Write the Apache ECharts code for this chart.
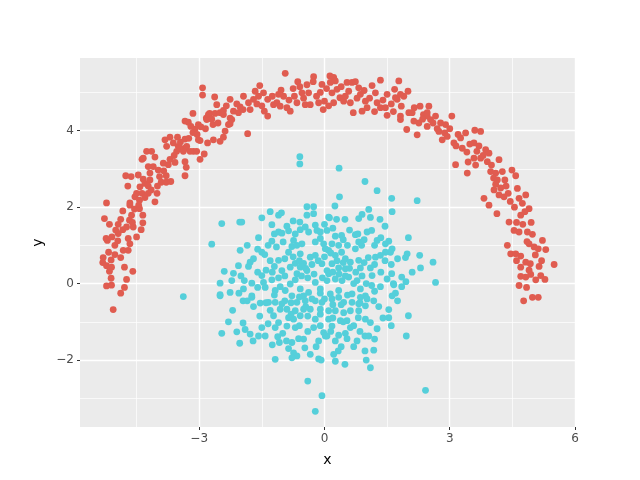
<!DOCTYPE html>
<html>
<head>
<meta charset="utf-8">
<script src="https://cdn.jsdelivr.net/npm/echarts@6/dist/echarts.min.js"></script>
<style>html,body{margin:0;padding:0;background:#fff}#c{width:640px;height:480px}</style>
</head>
<body>
<div id="c"></div>
<script>
const xMajorTicks = [-3, 0, 3, 6];
const xMinorTicks = [-4.5, -1.5, 1.5, 4.5];
const yMajorTicks = [-2, 0, 2, 4];
const yMinorTicks = [-3, -1, 1, 3, 5];

const moonPoints = [
[-5.22,2.11],[-5.27,1.70],[-5.15,1.55],[-5.23,1.18],[-5.2,1.13],[-5.09,1.22],[-5.17,0.82],[-5.3,0.68],[-5.31,0.55],[-5.22,0.47],[-5.1,0.43],[-5.15,0.32],[-5.11,0.14],[-5.22,-0.06],[-5.1,-0.04],[-5.06,-0.68],[-4.88,-0.25],[-4.79,-0.1],[-4.74,0.11],[-4.59,0.32],[-4.79,0.43],[-5.11,0.62],[-5.02,0.76],[-4.88,0.68],[-4.82,0.87],[-4.7,0.87],[-4.66,1.04],[-5.02,1.0],[-4.7,1.18],[-4.5,1.22],[-4.94,1.31],[-4.83,1.41],[-4.74,1.48],[-4.58,1.48],[-4.39,1.41],[-4.94,1.55],[-4.88,1.68],[-4.67,1.66],[-4.35,1.59],[-4.62,1.79],[-4.35,1.79],[-4.83,1.9],[-4.66,2.05],[-4.66,2.11],
[-4.43,1.96],[-4.54,2.27],[-4.43,2.18],[-4.37,2.36],[-4.22,2.36],[-4.06,2.14],[-4.01,2.36],[-4.5,2.36],[-4.71,2.55],[-4.42,2.53],[-4.3,2.62],[-4.18,2.71],[-4.22,2.55],[-4.76,2.82],[-4.63,2.8],[-4.46,2.84],[-4.34,2.73],[-3.91,2.65],[-3.79,2.65],[-3.68,2.67],[-3.79,2.82],[-3.34,2.82],[-3.98,2.97],[-4.18,2.89],[-4.1,3.06],[-3.86,3.15],[-3.74,3.11],[-3.58,3.17],[-3.31,3.04],[-3.34,3.19],[-4.37,3.25],[-4.22,3.06],[-4.06,3.31],[-4.26,3.46],[-3.54,3.46],[-3.14,3.46],[-2.98,3.25],[-2.88,3.39],
[-3.7,3.83],[-3.52,3.83],[-3.62,3.68],[-3.5,3.59],[-3.34,3.78],[-3.34,3.54],[-3.06,3.46],[-3.02,3.76],[-2.98,3.74],[-2.66,3.76],[-2.5,3.72],[-2.42,3.83],[-2.8,3.68],[-3.34,4.25],[-3.26,4.22],[-3.15,4.45],[-3.2,4.11],[-3.1,4.04],[-3.02,4.16],[-2.96,4.1],[-2.92,5.12],[-2.92,4.93],[-2.83,4.33],[-2.75,4.45],[-2.67,4.16],[-2.62,4.45],[-2.63,4.88],[-2.58,4.68],[-2.5,4.47],[-2.42,4.53],[-2.38,3.99],[-2.26,4.82],[-2.26,4.33],[-2.26,4.18],[-2.18,4.51],[-2.06,4.47],[-2.02,4.62],[-1.94,4.9],[-1.84,3.92],[-1.78,4.55],[-1.82,4.73],[-1.7,4.82],[-1.66,5.03],[-1.55,5.18],[-1.58,4.9],[-1.46,4.99],[-1.44,4.51],[-1.36,4.82],[-1.36,4.38],[-1.22,4.68],[-1.14,4.73],[-1.06,4.64],[-1.04,5.06],[-0.94,5.5],[-0.98,4.9],[-0.9,4.6],[-0.82,4.51],[-0.72,4.9],[-0.64,5.28],[-0.59,5.15],[-0.54,4.99],[-0.66,4.73],[-0.46,4.68],[-0.38,4.99],[-0.34,4.68],[-0.26,5.41],[-0.27,5.28],[-0.19,4.9],[-0.14,4.73],[-0.06,5.21],[-0.03,4.55],[0.0,4.77],[0.13,5.43],[0.22,5.39],[0.26,5.3],[0.18,4.99],[0.14,5.26],[0.3,5.08],[0.22,4.73],[0.37,4.86],[0.46,4.77],[0.54,5.26],[0.58,5.03],[0.66,5.26],[0.74,5.28],[0.62,4.73],[0.69,4.47],[0.82,5.12],[0.86,4.95],[0.9,4.51],[0.98,4.77],[1.02,4.6],[1.14,5.18],[1.22,4.99],[1.26,4.73],[1.34,5.32],[1.34,4.6],[1.5,4.95],[1.5,4.4],[1.68,5.08],[1.78,5.3],[1.74,4.82],[1.84,4.64],[1.82,4.38],[1.9,4.9],[2.0,5.03],[1.97,4.03],[2.02,4.47],[2.22,3.89],[2.29,4.64],[2.26,4.2],[2.37,4.42],[2.46,4.38],[2.46,4.11],
[1.46,4.6],[1.7,4.86],[1.82,4.95],[1.82,4.29],[2.1,4.47],[2.14,4.25],[2.5,4.64],[2.46,4.47],[2.54,4.29],[2.66,4.38],[2.78,4.2],[2.74,3.98],[2.88,3.94],[2.9,4.16],[3.05,4.38],[2.94,3.85],[2.82,3.76],[3.1,3.68],[3.26,3.81],[3.38,3.94],[3.3,3.54],[3.41,3.44],[3.44,3.18],[3.58,3.68],[3.6,4.01],[3.74,3.98],[3.65,3.46],[3.74,3.28],[3.58,3.28],[3.14,3.11],[3.42,2.89],[3.86,3.5],[3.94,3.41],[3.9,3.19],[3.98,2.93],[4.1,2.89],[4.05,2.76],[4.18,3.24],[4.26,2.93],[4.32,2.71],[4.14,2.71],[4.06,2.45],[4.18,2.32],[3.82,2.23],[3.94,2.05],[4.13,1.83],[4.3,2.27],[4.4,2.36],[4.49,2.97],[4.58,2.82],[4.62,2.49],[4.66,2.23],[4.82,2.32],[4.74,2.1],[4.9,1.96],[4.8,1.88],[4.7,1.79],[4.42,1.61],[4.54,1.39],[4.66,1.35],[4.86,1.35],[4.98,1.29],[4.9,1.04],[5.02,0.96],[5.12,0.91],[5.22,1.13],[5.3,0.89],[4.38,1.0],[4.46,0.78],[4.58,0.78],[4.7,0.72],[4.82,0.56],[4.93,0.52],[4.7,0.43],[5.14,0.45],[5.5,0.5],[4.7,0.19],[4.82,0.17],[4.94,0.24],[5.06,0.1],[5.18,0.21],[5.28,0.11],[4.66,-0.05],[4.84,-0.1],[4.77,-0.45],[4.98,-0.36],[5.12,-0.36],
[-4.34,3.28],[-4.14,3.46],[-3.82,3.76],[-3.78,3.59],[-3.46,3.54],[-3.3,3.59],[-3.38,3.46],[-3.22,3.46],[-2.82,4.29],[-2.78,4.42],[-2.42,4.42],[-2.3,4.16],[-2.22,4.29],
[-5.0,1.4],[-4.95,1.12],[-4.6,1.6],[-4.55,1.95],[-4.45,2.05],[-4.3,2.25],[-4.15,2.45],[-4.0,2.55],[-3.95,2.8],[-3.85,2.95],[-3.7,3.25],[-3.6,3.35],[-3.45,3.7],[-3.25,3.8],[-3.15,3.95],[-3.05,3.9],[-2.85,4.05],[-2.7,4.3],[-2.55,4.2],[-2.35,4.65],[-2.1,4.7],[-1.95,4.55],[-1.62,4.7],[-1.5,4.65],[-1.25,4.9],[-1.1,4.95],[-0.85,4.8],[-0.75,5.1],[-0.5,4.85],[-0.42,5.2],[-0.1,5.0],[0.05,5.1],[0.1,4.65],[0.4,5.15],[0.5,4.9],[0.78,4.85],[0.95,5.05],[1.08,4.85],[1.2,4.5],[1.4,4.8],[1.6,4.7],[1.65,4.5],[2.15,4.6],[2.35,4.3],[2.6,4.2],[2.7,4.05],[3.0,4.05],[3.2,3.9],[3.15,3.6],[3.48,3.65],[3.7,3.6],[3.8,3.35],[3.62,3.1],[4.0,3.1],[4.1,2.6],[4.22,2.5],[4.35,2.55],[4.45,2.15],[4.55,2.0],[4.6,1.6],[4.75,1.55],[4.95,1.6],[4.85,1.1],[5.05,0.75],[4.6,0.6],[5.2,0.6],[4.9,0.35]
];

const blobPoints = [
[-3.38,-0.34],[-0.59,3.32],[-0.59,3.13],[0.35,3.02],[2.42,-2.79],
[-2.46,1.57],[-2.03,1.61],[-1.98,1.61],[-2.7,1.03],[-2.02,0.87],[-1.58,1.2],[-1.5,1.72],[-1.3,1.88],[-1.26,1.54],[-1.1,1.79],[-1.03,1.85],[-1.5,0.82],[-1.43,0.76],[-1.26,1.11],[-1.15,0.96],[-1.1,1.35],[-1.02,1.32],[-0.99,1.09],[-0.86,1.38],[-0.75,1.64],[-0.59,1.61],[-0.74,1.13],[-0.78,0.97],[-0.66,1.0],[-0.54,1.04],[-0.86,0.82],[-0.58,0.78],[-0.42,2.01],[-0.26,2.01],[-0.26,1.83],[-0.42,1.79],[-0.58,1.41],[-0.46,1.48],[-0.38,1.35],[-0.22,1.53],[-0.18,1.39],[-0.22,1.09],[-0.1,1.18],[-0.02,1.04],[0.02,0.91],[0.1,1.74],[-0.34,0.69],[-0.22,0.74],[-1.1,0.61],[-1.2,0.45],[-1.02,0.34],[-0.82,0.43],[-0.7,0.53],[-0.58,0.43],[-0.5,0.53],[-0.66,0.26],[-0.42,0.34],[-1.78,0.56],[-1.82,0.45],[-2.06,0.47],[-2.4,0.32],[-2.18,0.27],[-2.22,0.08],[-2.5,0.01],[-1.92,0.08],[-1.74,0.01],[-1.94,-0.14],[-1.5,0.21],[-1.46,0.03],[-1.42,-0.1],[-1.26,0.1],[-1.18,-0.18],[-1.06,-0.08],[-0.94,-0.18],[-0.82,-0.01],[-0.78,-0.32],[-0.58,-0.14],[-0.5,-0.32],[-0.38,-0.23],[-0.22,0.03],[-0.1,-0.14],[0.06,0.08],[-2.26,-0.23],[-2.5,-0.29],[-1.74,-0.32],[0.06,0.34],[-0.06,0.52],
[0.97,2.67],[1.26,2.43],[0.36,2.27],[0.25,2.03],[1.61,2.23],[2.22,2.17],[1.62,1.88],[1.06,1.94],[0.9,1.81],[0.82,1.7],[1.1,1.73],[1.33,1.68],[1.45,1.5],[0.12,1.72],[0.29,1.68],[0.49,1.68],[0.06,1.39],[0.26,1.24],[0.41,1.26],[0.74,1.28],[1.02,1.35],[1.13,1.39],[1.26,1.13],[1.46,1.04],[1.54,1.11],[2.01,1.2],[0.18,1.04],[0.34,1.0],[0.82,1.09],[0.89,1.0],[0.74,0.91],[1.62,0.91],[1.58,0.82],[1.46,0.82],[1.34,0.74],[1.22,0.69],[1.05,0.68],[1.98,0.78],[1.94,0.68],[2.28,0.74],[2.6,0.56],[2.3,0.41],[2.66,0.03],[0.1,0.87],[0.26,0.74],[0.41,0.82],[0.5,0.65],[0.62,0.56],[0.82,0.61],[0.18,0.52],[0.34,0.41],[0.5,0.39],[0.86,0.41],[1.1,0.41],[1.14,0.21],[1.61,0.26],[1.5,0.12],[1.85,0.17],[1.66,-0.03],[1.85,-0.08],[1.7,-0.25],[1.34,-0.08],[1.13,-0.05],[0.1,0.26],[0.26,0.12],[0.42,0.08],[0.58,0.17],[0.78,0.08],[0.86,-0.14],[0.98,-0.32],[0.66,-0.27],[0.34,-0.18],[0.14,-0.27],
[-2.5,-0.32],[-1.95,-0.45],[-1.74,-0.36],[-1.54,-0.51],[-1.34,-0.49],[-1.18,-0.49],[-1.02,-0.53],[-1.22,-0.84],[-1.1,-1.02],[-1.18,-1.15],[-1.95,-1.03],[-2.46,-1.3],[-2.1,-1.26],[-2.03,-1.56],[-1.78,-1.32],[-1.71,-1.5],[-1.58,-1.37],[-1.42,-1.37],[-1.12,-1.39],[-1.08,-1.54],[-0.91,-1.5],[-0.78,-1.54],[-0.86,-1.7],[-0.74,-1.81],[-0.66,-1.89],[-0.78,-1.94],[-0.62,-1.44],[-0.47,-1.68],[-0.34,-1.85],[-0.14,-1.97],[-0.08,-2.0],[-1.18,-1.98],[-0.4,-2.55],[-0.06,-2.93],[-0.22,-3.34],[-0.9,-1.11],[-0.7,-1.15],[-0.86,-0.89],[-0.74,-0.93],[-1.06,-0.67],[-0.9,-0.67],[-0.7,-0.71],[-0.58,-0.84],[-0.5,-0.67],[-0.34,-0.67],[-0.22,-0.93],[-0.26,-1.15],[-0.14,-1.5],[-0.02,-1.28],[0.02,-1.37],[-0.22,-0.45],[-0.1,-0.67],[-0.06,-0.49],[-0.46,-0.45],[-0.66,-0.49],
[1.62,-0.32],[1.54,-0.68],[1.54,-0.89],[2.01,-0.84],[1.96,-1.37],[1.18,-0.45],[1.02,-0.4],[0.86,-0.36],[0.98,-0.58],[0.82,-0.53],[0.66,-0.49],[0.46,-0.49],[0.34,-0.36],[0.18,-0.4],[0.1,-0.71],[0.26,-0.71],[0.46,-0.76],[0.62,-0.71],[0.82,-0.71],[0.81,-0.89],[0.98,-0.93],[1.1,-1.02],[1.26,-1.18],[0.54,-0.97],[0.62,-1.15],[0.38,-0.97],[0.18,-1.11],[0.1,-0.93],[0.06,-1.37],[0.26,-1.5],[0.34,-1.35],[0.54,-1.44],[0.78,-1.5],[0.97,-1.37],[1.06,-1.37],[0.97,-1.76],[1.18,-1.74],[0.33,-1.76],[0.22,-1.85],[0.26,-2.03],[0.49,-2.11],[1.0,-2.0],[1.1,-2.2],
[-0.95,0.65],[-0.75,0.7],[-0.6,0.6],[-0.45,0.4],[-0.3,0.5],[-0.15,0.6],[0.0,0.7],[0.15,0.8],[0.3,0.6],[0.45,0.55],[0.6,0.4],[0.75,0.3],[0.95,0.55],[1.2,0.5],[1.35,0.3],[-1.3,0.6],[-1.4,0.35],[-1.6,0.3],[-1.25,0.3],[-1.1,0.15],[-0.95,0.2],[-0.7,0.1],[-0.55,0.2],[-0.4,0.15],[-0.25,0.25],[-0.05,0.15],[0.2,0.3],[0.35,0.25],[0.5,0.2],[0.7,0.0],[0.9,0.2],[1.0,0.0],[1.2,-0.2],[0.85,-0.5],[0.55,-0.3],[0.4,-0.55],[0.2,-0.55],[0.0,-0.4],[-0.1,-0.25],[-0.3,-0.4],[-0.45,-0.6],[-0.6,-0.35],[-0.8,-0.5],[-0.95,-0.45],[-1.2,-0.3],[-1.4,-0.5],[-1.6,-0.1],[-1.7,-0.6],[-1.3,-0.7],[-0.8,-0.8],[-0.4,-0.85],[-0.1,-0.8],[0.2,-0.9],[0.45,-1.0],[0.7,-1.1],[0.85,-1.25],[0.5,-1.3],[0.15,-1.25],[-0.1,-1.1],[-0.4,-1.25],[-0.6,-1.1],[-1.0,-1.3],[-1.35,-1.05],[-1.55,-0.85],[1.3,-0.6],[1.4,-0.9],[1.2,-1.45],[0.7,-1.65],[0.4,-1.65],[-0.2,-1.65],[-0.5,-1.45],[-1.25,-1.6],[-1.5,-1.15],[1.6,0.5],[1.75,0.65],[1.45,0.6],[0.55,1.0],[0.45,1.15],[0.6,1.4],[0.8,1.3],[0.95,1.15],[1.2,1.0],[1.35,1.2],[-0.1,1.35],[0.0,1.55],[0.2,1.45],[-0.7,1.3],[-0.9,1.5],[-1.2,1.3],[-1.35,1.0],[-1.6,0.9],[-1.85,1.0],[-1.7,0.65],[-2.0,0.2],[-2.05,-0.25],[-1.85,-0.45],[-2.2,-0.7],[-2.3,-1.0],[-1.9,-1.2],[1.75,-0.45],[1.6,-1.1],[1.65,0.0],[2.1,0.3],[1.95,0.05]
];

const moonColor = '#E05C50';
const blobColor = '#55CFDA';
const font = 'DejaVu Sans';
const fmt = v => String(v).replace('-', '\u2212');

const chart = echarts.init(document.getElementById('c'), null, {renderer: 'canvas'});
const tickStyle = {show: true, length: 3, lineStyle: {color: '#333333', width: 1}};
const labelStyle = {color: '#4D4D4D', fontSize: 12, fontFamily: font, formatter: fmt};
chart.setOption({
  animation: false,
  backgroundColor: '#FFFFFF',
  grid: {left: 80, right: 65, top: 58, bottom: 53, show: true, backgroundColor: '#EBEBEB', borderWidth: 0},
  xAxis: [
    {
      type: 'value', min: -5.855, max: 6.0, position: 'bottom',
      name: 'x', nameLocation: 'middle', nameGap: 26,
      nameTextStyle: {color: '#000', fontSize: 14, fontFamily: font},
      axisLine: {show: false, onZero: false},
      axisTick: Object.assign({}, tickStyle, {customValues: xMajorTicks}),
      axisLabel: Object.assign({}, labelStyle, {customValues: xMajorTicks, margin: 6}),
      splitLine: {show: true, lineStyle: {color: '#FFFFFF', width: 1.4}}
    },
    {
      type: 'value', min: -5.855, max: 6.0, position: 'bottom',
      axisLine: {show: false, onZero: false}, axisLabel: {show: false, customValues: xMinorTicks},
      axisTick: {show: false, customValues: xMinorTicks},
      splitLine: {show: true, lineStyle: {color: '#FFFFFF', width: 0.7}}
    }
  ],
  yAxis: [
    {
      type: 'value', min: -3.75, max: 5.9, position: 'left',
      name: 'y', nameLocation: 'middle', nameGap: 26, nameRotate: 90,
      nameTextStyle: {color: '#000', fontSize: 14, fontFamily: font},
      axisLine: {show: false, onZero: false},
      axisTick: Object.assign({}, tickStyle, {customValues: yMajorTicks}),
      axisLabel: Object.assign({}, labelStyle, {customValues: yMajorTicks, margin: 6}),
      splitLine: {show: true, lineStyle: {color: '#FFFFFF', width: 1.4}}
    },
    {
      type: 'value', min: -3.75, max: 5.9, position: 'left',
      axisLine: {show: false, onZero: false}, axisLabel: {show: false, customValues: yMinorTicks},
      axisTick: {show: false, customValues: yMinorTicks},
      splitLine: {show: true, lineStyle: {color: '#FFFFFF', width: 0.7}}
    }
  ],
  series: [
    {type: 'scatter', xAxisIndex: 0, yAxisIndex: 0, data: blobPoints, symbolSize: 6.8,
     itemStyle: {color: blobColor, opacity: 1}, silent: true},
    {type: 'scatter', xAxisIndex: 0, yAxisIndex: 0, data: moonPoints, symbolSize: 6.8,
     itemStyle: {color: moonColor, opacity: 1}, silent: true}
  ]
});
</script>
</body>
</html>
